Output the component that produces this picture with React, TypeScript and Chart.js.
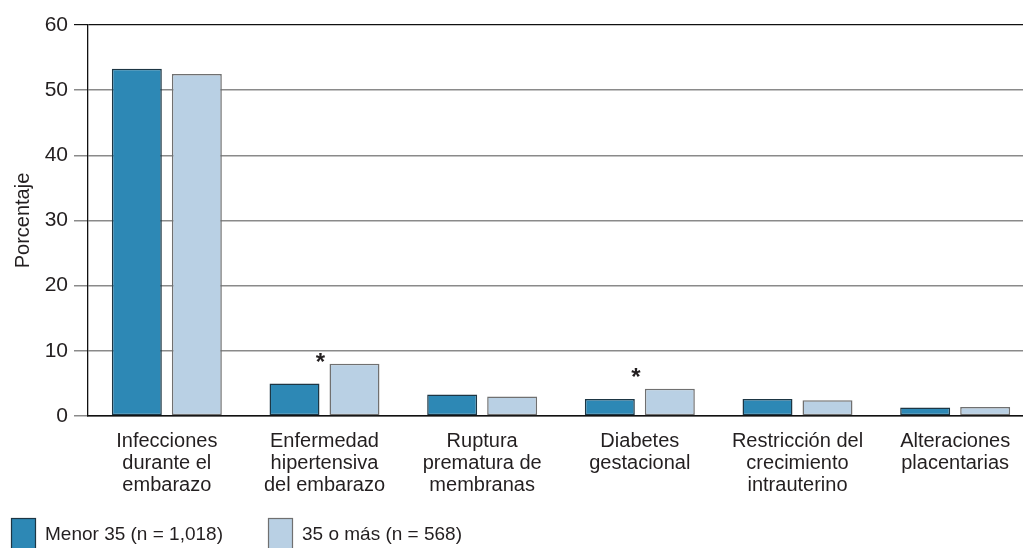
import React, { useEffect, useRef } from "react";
import { Chart, registerables } from "chart.js";

Chart.register(...registerables);

const categories: string[][] = [
  ["Infecciones", "durante el", "embarazo"],
  ["Enfermedad", "hipertensiva", "del embarazo"],
  ["Ruptura", "prematura de", "membranas"],
  ["Diabetes", "gestacional"],
  ["Restricción del", "crecimiento", "intrauterino"],
  ["Alteraciones", "placentarias"],
];

const menor35: number[] = [53.3, 5.0, 3.3, 2.6, 2.6, 1.3];
const mayor35: number[] = [52.5, 8.0, 3.0, 4.2, 2.4, 1.4];

const seriesLabels: string[] = ["Menor 35 (n = 1,018)", "35 o más (n = 568)"];

// significance markers (category index, value where the asterisk sits)
const starCategories: number[] = [1, 3];
const starValues: number[] = [8.9, 6.6];

const yTicks: number[] = [0, 10, 20, 30, 40, 50, 60];

const FONT = "'Liberation Sans', Arial, Helvetica, sans-serif";
const TEXT = "#231f20";

export default function App() {
  const ref = useRef<HTMLCanvasElement | null>(null);

  useEffect(() => {
    if (!ref.current) return;

    const starPlugin = {
      id: "stars",
      afterDatasetsDraw(chart: any) {
        const { ctx } = chart;
        const xs = chart.scales.x;
        const ys = chart.scales.y;
        ctx.save();
        ctx.fillStyle = TEXT;
        ctx.font = `bold 24px ${FONT}`;
        ctx.textAlign = "center";
        ctx.textBaseline = "middle";
        starCategories.forEach((c, i) => {
          const x = xs.getPixelForValue(c) - 4;
          const y = ys.getPixelForValue(starValues[i]);
          ctx.fillText("*", x, y + 5);
        });
        ctx.restore();
      },
    };

    const legendPlugin = {
      id: "customLegend",
      afterDraw(chart: any) {
        const { ctx } = chart;
        const starts = [11, 268];
        ctx.save();
        chart.data.datasets.forEach((ds: any, i: number) => {
          const x = starts[i];
          const y = 518;
          ctx.fillStyle = ds.backgroundColor;
          ctx.fillRect(x, y, 25, 34);
          ctx.strokeStyle = ds.borderColor;
          ctx.lineWidth = 1.2;
          ctx.strokeRect(x + 0.5, y + 0.5, 24, 34);
          ctx.fillStyle = TEXT;
          ctx.font = `19px ${FONT}`;
          ctx.textAlign = "left";
          ctx.textBaseline = "middle";
          ctx.fillText(ds.label, x + 34, 535);
        });
        ctx.restore();
      },
    };

    const chart = new Chart(ref.current, {
      type: "bar",
      data: {
        labels: categories,
        datasets: [
          {
            label: seriesLabels[0],
            data: menor35,
            backgroundColor: "#2D88B5",
            borderColor: "#1d3644",
            borderWidth: 1.5,
            borderSkipped: false,
          },
          {
            label: seriesLabels[1],
            data: mayor35,
            backgroundColor: "#B9D0E4",
            borderColor: "#707070",
            borderWidth: 1.5,
            borderSkipped: false,
          },
        ],
      },
      options: {
        animation: false,
        responsive: false,
        maintainAspectRatio: false,
        layout: { padding: { top: 25, left: 0, right: 0, bottom: 0 } },
        datasets: {
          bar: { categoryPercentage: 0.761, barPercentage: 0.833 },
        },
        plugins: {
          legend: { display: false },
          tooltip: { enabled: false },
        },
        scales: {
          x: {
            grid: { display: false },
            border: { display: true, color: "#111", width: 1.5 },
            ticks: {
              color: TEXT,
              font: { family: FONT, size: 20, lineHeight: 1.1 },
              maxRotation: 0,
              autoSkip: false,
              padding: 6,
            },
            afterFit(scale: any) {
              scale.height = 132;
            },
          },
          y: {
            min: 0,
            max: 60,
            afterBuildTicks(scale: any) {
              scale.ticks = yTicks.map((v) => ({ value: v }));
            },
            grid: {
              color: (c: any) => (c.tick && c.tick.value === 60 ? "#111" : "#8a8a8a"),
              lineWidth: (c: any) => (c.tick && c.tick.value === 60 ? 1.2 : 1.5),
              tickLength: 14,
              drawTicks: true,
            },
            border: { display: true, color: "#111", width: 1.3 },
            ticks: {
              color: TEXT,
              font: { family: FONT, size: 21 },
              padding: 6,
            },
            title: {
              display: true,
              text: "Porcentaje",
              color: TEXT,
              font: { family: FONT, size: 20 },
              padding: { top: 11, bottom: 0 },
            },
            afterFit(scale: any) {
              scale.width = 88;
            },
          },
        },
      },
      plugins: [starPlugin, legendPlugin],
    });

    return () => chart.destroy();
  }, []);

  return (
    <div
      style={{
        position: "fixed",
        left: 0,
        top: 0,
        width: 1023,
        height: 548,
        overflow: "hidden",
        background: "#fff",
      }}
    >
      <canvas ref={ref} width={1034} height={548} style={{ display: "block" }} />
    </div>
  );
}
